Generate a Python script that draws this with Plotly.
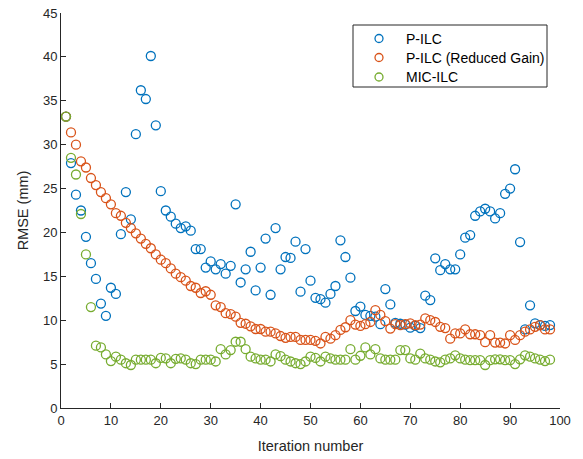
import plotly.graph_objects as go

# Iteration index shared by all three learning controllers
iterations = list(range(1, 99))

# RMSE per iteration (mm)
p_ilc = [
    33.2, 27.9, 24.3, 22.5, 19.5, 16.5, 14.7, 11.9, 10.5, 13.7,
    13.0, 19.8, 24.6, 21.5, 31.2, 36.2, 35.2, 40.1, 32.2, 24.7,
    22.5, 21.8, 21.0, 20.5, 20.7, 20.2, 18.1, 18.1, 16.0, 16.7,
    15.8, 16.4, 15.3, 16.2, 23.2, 14.3, 15.8, 17.8, 13.4, 16.0,
    19.3, 12.9, 20.5, 15.8, 17.2, 17.1, 18.95, 13.25, 18.1, 14.5,
    12.55, 12.4, 12.0, 13.0, 13.9, 19.1, 17.2, 14.85, 11.05, 11.55,
    10.6, 10.5, 10.4, 9.55, 13.55, 11.8, 9.7, 9.6, 9.5, 9.15,
    9.35, 9.1, 12.8, 12.3, 17.05, 15.7, 16.4, 15.8, 15.8, 17.5,
    19.4, 19.7, 21.9, 22.4, 22.7, 22.4, 21.6, 22.2, 24.4, 25.0,
    27.2, 18.9, 8.95, 11.7, 9.65, 9.45, 9.35, 9.45,
]

p_ilc_reduced = [
    33.2, 31.4, 30.0, 28.1, 27.4, 26.2, 25.4, 24.6, 23.9, 23.2,
    22.2, 21.9, 21.1, 20.5, 19.9, 19.3, 18.7, 18.2, 17.5, 16.9,
    16.5, 15.9, 15.3, 14.9, 14.5, 13.9, 13.7, 13.1, 13.3, 12.9,
    11.7, 11.5, 10.8, 10.7, 10.4, 9.7, 9.6, 9.3, 9.0, 9.0,
    8.7, 8.7, 8.5, 8.2, 8.0, 8.1, 8.1, 7.75, 7.75, 7.75,
    7.65, 7.35, 8.1, 7.9, 8.3, 8.9, 9.2, 10.0, 9.5, 9.35,
    9.55, 9.8, 11.15, 10.6, 9.9, 9.05, 9.55, 9.45, 9.55, 9.65,
    9.45, 9.5, 10.2, 10.0, 9.8, 9.25, 9.1, 7.9, 8.5, 8.5,
    8.95, 8.4, 8.4, 8.3, 7.5, 8.3, 7.45, 7.45, 7.35, 8.3,
    7.75, 8.3, 8.7, 8.95, 9.25, 9.45, 8.95, 8.95,
]

mic_ilc = [
    33.2, 28.5, 26.6, 22.1, 17.5, 11.5, 7.1, 6.9, 6.1, 5.35,
    5.85, 5.5, 5.1, 4.9, 5.5, 5.5, 5.5, 5.5, 5.1, 5.7,
    5.65, 5.1, 5.6, 5.65, 5.5, 5.1, 5.0, 5.5, 5.5, 5.5,
    5.3, 6.7, 6.1, 6.6, 7.55, 7.55, 6.7, 5.85, 5.65, 5.5,
    5.5, 5.3, 6.1, 5.9, 5.5, 5.3, 5.1, 5.0, 5.3, 5.85,
    5.7, 5.3, 5.85, 5.65, 5.5, 5.5, 5.5, 6.7, 5.5, 5.95,
    6.9, 6.1, 6.7, 5.65, 5.5, 5.5, 5.5, 6.6, 6.6, 5.65,
    5.5, 6.2, 5.65, 5.5, 5.3, 5.2, 5.5, 5.65, 6.0, 5.65,
    5.5, 5.45, 5.45, 5.45, 4.9, 5.45, 5.55, 5.55, 5.45, 5.45,
    5.0, 5.55, 6.0, 5.85, 5.65, 5.5, 5.35, 5.5,
]

x_ticks = list(range(0, 101, 10))
y_ticks = list(range(0, 46, 5))

series_names = ["P-ILC", "P-ILC (Reduced Gain)", "MIC-ILC"]
series_values = [p_ilc, p_ilc_reduced, mic_ilc]
series_colors = ["#0072BD", "#D95319", "#77AC30"]

FONT = "Liberation Sans, Arial, Helvetica, sans-serif"
AXIS_COLOR = "#262626"
MARKER_SIZE = 9

# Figure / plot-area geometry in pixels
W, H = 583, 459
M_L, M_R, M_T, M_B = 61, 23, 13, 51
PW, PH = W - M_L - M_R, H - M_T - M_B


def px_to_paper(px, py):
    return (px - M_L) / PW, (H - M_B - py) / PH


fig = go.Figure()
for name, values, color in zip(series_names, series_values, series_colors):
    fig.add_trace(go.Scatter(
        x=iterations,
        y=values,
        mode="markers",
        name=name,
        showlegend=False,
        marker=dict(symbol="circle-open", size=MARKER_SIZE, color=color,
                    line=dict(width=1.3, color=color)),
    ))

axis_common = dict(
    showline=True,
    linecolor=AXIS_COLOR,
    linewidth=1,
    mirror=False,
    ticks="inside",
    ticklen=5,
    tickcolor=AXIS_COLOR,
    tickwidth=1,
    showgrid=False,
    zeroline=False,
    automargin=False,
    tickfont=dict(family=FONT, size=13, color=AXIS_COLOR),
)

fig.update_xaxes(
    range=[0, 100],
    tickmode="array",
    tickvals=x_ticks,
    title=dict(text="Iteration number", font=dict(family=FONT, size=14.5, color=AXIS_COLOR), standoff=14),
    **axis_common,
)
fig.update_yaxes(
    range=[0, 45],
    tickmode="array",
    tickvals=y_ticks,
    title=dict(text="RMSE (mm)", font=dict(family=FONT, size=14.5, color=AXIS_COLOR), standoff=10),
    **axis_common,
)

# Legend box drawn as a framed panel with circle keys and labels
box_x0, box_y0 = px_to_paper(353, 25)
box_x1, box_y1 = px_to_paper(547, 87)
shapes = [dict(type="rect", xref="paper", yref="paper",
               x0=box_x0, x1=box_x1, y0=box_y1, y1=box_y0,
               line=dict(color=AXIS_COLOR, width=1), fillcolor="white", layer="above")]
annotations = []
row_py = [38.5, 57.5, 77]
for name, color, py in zip(series_names, series_colors, row_py):
    kx, ky = px_to_paper(379, py)
    shapes.append(dict(type="circle", xref="paper", yref="paper",
                       xsizemode="pixel", ysizemode="pixel",
                       xanchor=kx, yanchor=ky,
                       x0=-MARKER_SIZE / 2 + 0.5, x1=MARKER_SIZE / 2 - 0.5,
                       y0=-MARKER_SIZE / 2 + 0.5, y1=MARKER_SIZE / 2 - 0.5,
                       line=dict(color=color, width=1.3), layer="above"))
    tx, ty = px_to_paper(404, py)
    annotations.append(dict(xref="paper", yref="paper", x=tx, y=ty,
                            xanchor="left", yanchor="middle", showarrow=False,
                            text=name, font=dict(family=FONT, size=14, color="black")))

fig.update_layout(
    width=W,
    height=H,
    margin=dict(l=M_L, r=M_R, t=M_T, b=M_B),
    paper_bgcolor="white",
    plot_bgcolor="white",
    font=dict(family=FONT, color=AXIS_COLOR),
    showlegend=False,
    shapes=shapes,
    annotations=annotations,
)

fig.write_html("out.html")
